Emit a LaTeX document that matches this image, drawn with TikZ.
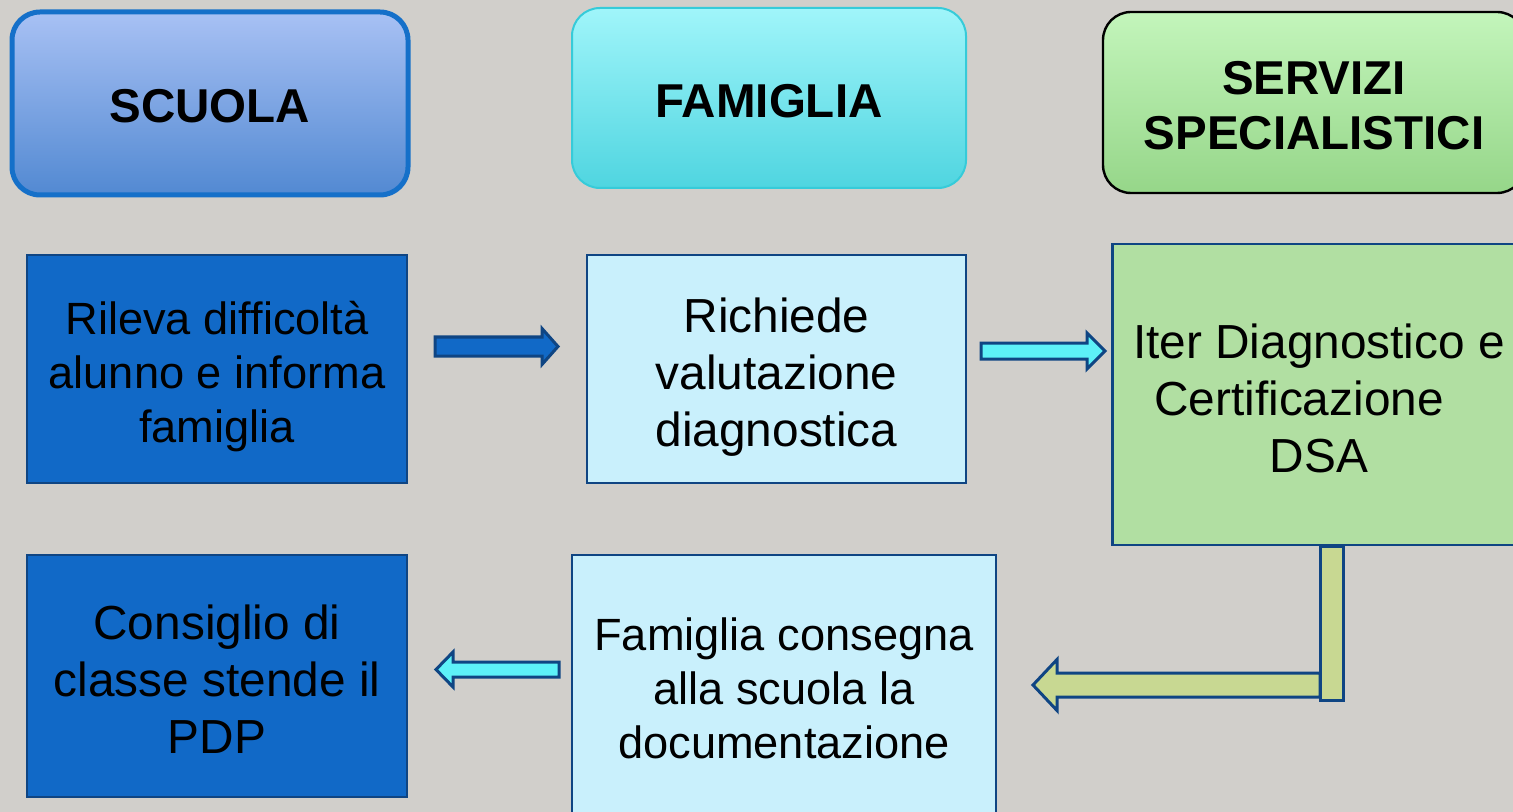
\documentclass[tikz,border=0pt]{standalone}
\usepackage{fontspec}
\setmainfont{Liberation Sans}
\usetikzlibrary{calc}

\definecolor{bgcol}{HTML}{D1CFCB}
\definecolor{scuolatop}{HTML}{A8C1F4}
\definecolor{scuolabot}{HTML}{5289D2}
\definecolor{scuolaline}{HTML}{1570C9}
\definecolor{famtop}{HTML}{A0F5FA}
\definecolor{fambot}{HTML}{4FD5E0}
\definecolor{famline}{HTML}{36CBD9}
\definecolor{servtop}{HTML}{C3F5BB}
\definecolor{servbot}{HTML}{96D689}
\definecolor{boxblue}{HTML}{1169C7}
\definecolor{boxline}{HTML}{0F4583}
\definecolor{boxcyan}{HTML}{C9F0FC}
\definecolor{boxgreen}{HTML}{B1DFA2}
\definecolor{arrowcyan}{HTML}{5DF1F8}
\definecolor{arrowgreen}{HTML}{C8D892}

% invisible struts: top of first line, bottom of last line
\newcommand{\hstrut}{\rule{0pt}{19.5pt}}
\newcommand{\tstrut}{\rule{0pt}{1.08em}}
\newcommand{\bstrut}{\rule[-0.22em]{0pt}{0.22em}}

\tikzset{
  headbox/.style={rounded corners=14pt, align=center, inner sep=0pt,
    font=\fontsize{23.75pt}{27.5pt}\selectfont\bfseries},
  stepbox/.style={draw=boxline, line width=1.2pt, align=center, inner sep=0pt},
  smalltext/.style={font=\fontsize{22.6pt}{27.2pt}\selectfont},
  bigtext/.style={font=\fontsize{23.9pt}{28.5pt}\selectfont},
  fat/.style={draw=boxline, line width=1.5pt, line join=miter},
}

% block arrow: [style]{from}{to}{shaft half width}{head half width}{head length}
\newcommand{\fatarrow}[6][]{%
  \coordinate (hb) at ($(#3)!#6!(#2)$);
  \draw[fat,#1] ($(#2)!#4!90:(#3)$) -- ($(hb)!#4!90:(#3)$) -- ($(hb)!#5!90:(#3)$)
    -- (#3) -- ($(hb)!#5!-90:(#3)$) -- ($(hb)!#4!-90:(#3)$) -- ($(#2)!#4!-90:(#3)$) -- cycle;
}

\begin{document}
\begin{tikzpicture}[x=0.5pt, y=-0.5pt]
  \useasboundingbox (0,0) rectangle (1513,812);
  \fill[bgcol] (0,0) rectangle (1513,812);

  % headers
  \node[headbox, draw=scuolaline, line width=2.5pt, top color=scuolatop, bottom color=scuolabot,
    minimum width=198pt, minimum height=91.5pt] (scuola) at (210,103.5) {\hstrut SCUOLA};
  \node[headbox, draw=famline, line width=1pt, top color=famtop, bottom color=fambot,
    minimum width=197pt, minimum height=90pt] (famiglia) at (769,98) {\hstrut FAMIGLIA};
  \node[headbox, draw=black, line width=1.2pt, top color=servtop, bottom color=servbot,
    minimum width=211pt, minimum height=90.5pt] (servizi) at (1314,102.5) {\hstrut SERVIZI\\SPECIALISTICI};

  % steps
  \node[stepbox, smalltext, fill=boxblue, minimum width=190pt, minimum height=114pt] (rileva) at (217,369)
    {\tstrut Rileva difficoltà\\alunno e informa\\famiglia\bstrut};
  \node[stepbox, bigtext, fill=boxcyan, minimum width=189.5pt, minimum height=114pt] (richiede) at (776.5,369)
    {\tstrut Richiede\\valutazione\\diagnostica\bstrut};
  \node[stepbox, bigtext, fill=boxgreen, minimum width=206.5pt, minimum height=150.5pt] (iter) at (1319,394.5)
    {\tstrut Iter Diagnostico e\\Certificazione\rule{20pt}{0pt}\\DSA\bstrut};
  \node[stepbox, bigtext, fill=boxblue, minimum width=190pt, minimum height=121pt] (consiglio) at (217,676)
    {\tstrut Consiglio di\\classe stende il\\PDP\bstrut};
  \node[stepbox, smalltext, fill=boxcyan, minimum width=212pt, minimum height=130pt] (consegna) at (784,685)
    {\tstrut Famiglia consegna\\alla scuola la\\documentazione\bstrut};

  % arrows
  \coordinate (a1s) at (435,346.5);
  \coordinate (a1e) at (558,346.5);
  \coordinate (a2s) at (981,351);
  \coordinate (a2e) at (1105,351);
  \coordinate (a3s) at (559,669.5);
  \coordinate (a3e) at (436,669.5);
  \coordinate (a4s) at (1320,685);
  \coordinate (a4e) at (1033,685);

  \fatarrow[fill=boxblue]{a1s}{a1e}{4.75pt}{9pt}{8pt}
  \fatarrow[fill=arrowcyan]{a2s}{a2e}{4pt}{9pt}{9pt}
  \fatarrow[fill=arrowcyan]{a3s}{a3e}{3.75pt}{8.75pt}{8.5pt}
  \fatarrow[fill=arrowgreen]{a4s}{a4e}{6pt}{12.75pt}{12pt}
  \draw[fat, fill=arrowgreen] (1320,546) rectangle (1343,700);
\end{tikzpicture}
\end{document}
